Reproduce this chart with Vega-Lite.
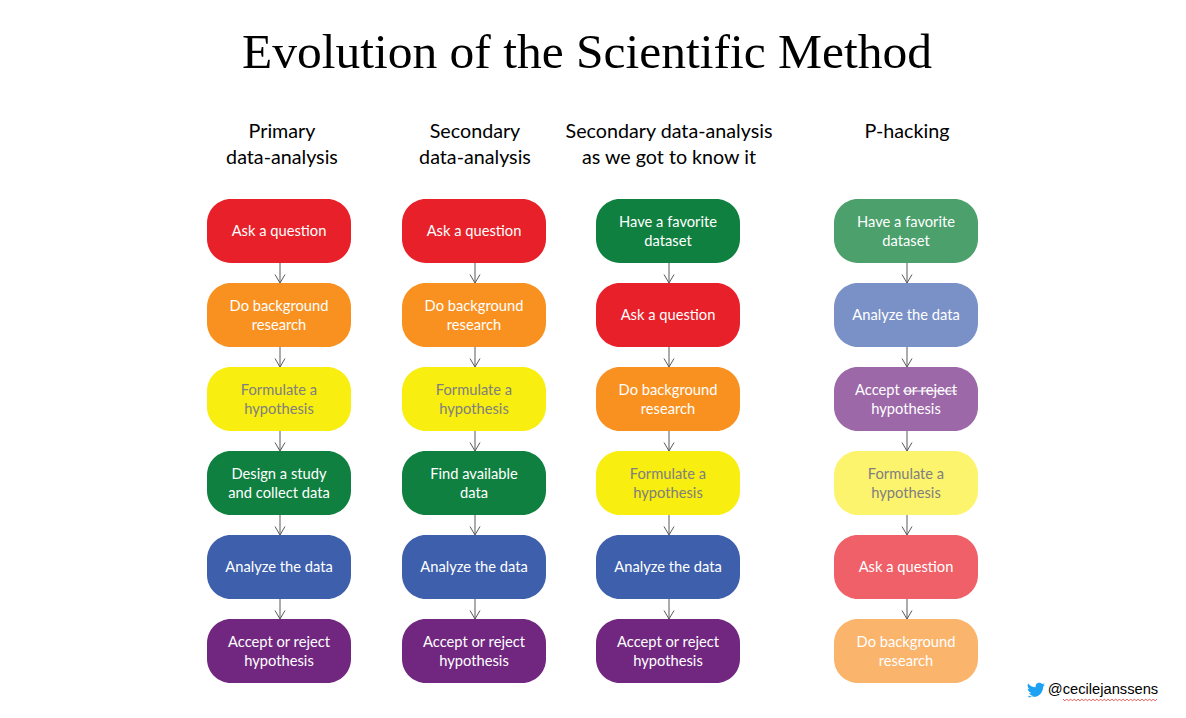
{
  "$schema": "https://vega.github.io/schema/vega-lite/v6.json",
  "width": 1186,
  "height": 718,
  "padding": 0,
  "autosize": "none",
  "background": "white",
  "title": {
    "text": "Evolution of the Scientific Method",
    "font": "Liberation Serif",
    "fontSize": 49.5,
    "fontWeight": "normal",
    "color": "black",
    "anchor": "middle",
    "frame": "group",
    "dx": -6,
    "offset": -78
  },
  "datasets": {
    "boxes": [
      {"panel": 1, "step": 1, "label": "Ask a question", "tone": "red", "ink": "white"},
      {"panel": 1, "step": 2, "label": "Do background\nresearch", "tone": "orange", "ink": "white"},
      {"panel": 1, "step": 3, "label": "Formulate a\nhypothesis", "tone": "yellow", "ink": "grey"},
      {"panel": 1, "step": 4, "label": "Design a study\nand collect data", "tone": "green", "ink": "white"},
      {"panel": 1, "step": 5, "label": "Analyze the data", "tone": "blue", "ink": "white"},
      {"panel": 1, "step": 6, "label": "Accept or reject\nhypothesis", "tone": "purple", "ink": "white"},
      {"panel": 2, "step": 1, "label": "Ask a question", "tone": "red", "ink": "white"},
      {"panel": 2, "step": 2, "label": "Do background\nresearch", "tone": "orange", "ink": "white"},
      {"panel": 2, "step": 3, "label": "Formulate a\nhypothesis", "tone": "yellow", "ink": "grey"},
      {"panel": 2, "step": 4, "label": "Find available\ndata", "tone": "green", "ink": "white"},
      {"panel": 2, "step": 5, "label": "Analyze the data", "tone": "blue", "ink": "white"},
      {"panel": 2, "step": 6, "label": "Accept or reject\nhypothesis", "tone": "purple", "ink": "white"},
      {"panel": 3, "step": 1, "label": "Have a favorite\ndataset", "tone": "green", "ink": "white"},
      {"panel": 3, "step": 2, "label": "Ask a question", "tone": "red", "ink": "white"},
      {"panel": 3, "step": 3, "label": "Do background\nresearch", "tone": "orange", "ink": "white"},
      {"panel": 3, "step": 4, "label": "Formulate a\nhypothesis", "tone": "yellow", "ink": "grey"},
      {"panel": 3, "step": 5, "label": "Analyze the data", "tone": "blue", "ink": "white"},
      {"panel": 3, "step": 6, "label": "Accept or reject\nhypothesis", "tone": "purple", "ink": "white"},
      {"panel": 4, "step": 1, "label": "Have a favorite\ndataset", "tone": "pale green", "ink": "white"},
      {"panel": 4, "step": 2, "label": "Analyze the data", "tone": "pale blue", "ink": "white"},
      {"panel": 4, "step": 3, "label": "Accept or reject\nhypothesis", "tone": "pale purple", "ink": "white"},
      {"panel": 4, "step": 4, "label": "Formulate a\nhypothesis", "tone": "pale yellow", "ink": "grey"},
      {"panel": 4, "step": 5, "label": "Ask a question", "tone": "pale red", "ink": "white"},
      {"panel": 4, "step": 6, "label": "Do background\nresearch", "tone": "pale orange", "ink": "white"}
    ],
    "arrows": [
      {"panel": 1, "from": 1, "to": 2}, {"panel": 1, "from": 2, "to": 3}, {"panel": 1, "from": 3, "to": 4}, {"panel": 1, "from": 4, "to": 5}, {"panel": 1, "from": 5, "to": 6},
      {"panel": 2, "from": 1, "to": 2}, {"panel": 2, "from": 2, "to": 3}, {"panel": 2, "from": 3, "to": 4}, {"panel": 2, "from": 4, "to": 5}, {"panel": 2, "from": 5, "to": 6},
      {"panel": 3, "from": 1, "to": 2}, {"panel": 3, "from": 2, "to": 3}, {"panel": 3, "from": 3, "to": 4}, {"panel": 3, "from": 4, "to": 5}, {"panel": 3, "from": 5, "to": 6},
      {"panel": 4, "from": 1, "to": 2}, {"panel": 4, "from": 2, "to": 3}, {"panel": 4, "from": 3, "to": 4}, {"panel": 4, "from": 4, "to": 5}, {"panel": 4, "from": 5, "to": 6}
    ],
    "heads": [
      {"panel": 1, "step": 0, "label": "Primary\ndata-analysis"},
      {"panel": 2, "step": 0, "label": "Secondary\ndata-analysis"},
      {"panel": 3, "step": 0, "label": "Secondary data-analysis\nas we got to know it"},
      {"panel": 4, "step": 0, "label": "P-hacking"}
    ],
    "credit": [{"panel": 5, "step": 6, "label": "@cecilejanssens"}],
    "struck": [{"panel": 4, "step": 3}]
  },
  "encoding": {
    "x": {
      "field": "panel",
      "type": "quantitative",
      "axis": null,
      "scale": {"domain": [1, 2, 3, 4, 5], "range": [279, 474, 668, 906, 1103]}
    },
    "y": {
      "field": "step",
      "type": "quantitative",
      "axis": null,
      "scale": {"domain": [0, 6], "range": [147, 651]}
    }
  },
  "layer": [
    {
      "data": {"name": "arrows"},
      "mark": {"type": "rule", "color": "#595959", "strokeWidth": 1, "xOffset": 1},
      "encoding": {
        "y": {"field": "from", "type": "quantitative"},
        "y2": {"field": "to"}
      }
    },
    {
      "data": {"name": "arrows"},
      "mark": {
        "type": "point",
        "shape": "M-1,-1.7L0,0L1,-1.7",
        "size": 100,
        "filled": false,
        "color": "#595959",
        "strokeWidth": 1,
        "opacity": 1,
        "xOffset": 1,
        "yOffset": -32
      },
      "encoding": {"y": {"field": "to", "type": "quantitative"}}
    },
    {
      "data": {"name": "boxes"},
      "mark": {"type": "rect", "width": 144, "height": 64, "cornerRadius": 24},
      "encoding": {
        "color": {
          "field": "tone",
          "type": "nominal",
          "legend": null,
          "scale": {
            "domain": ["red", "orange", "yellow", "green", "blue", "purple", "pale red", "pale orange", "pale yellow", "pale green", "pale blue", "pale purple"],
            "range": ["#E8202A", "#F99120", "#F8EE10", "#0F8040", "#3E5FAC", "#71277F", "#EF6068", "#FBB46C", "#FDF46E", "#4BA06C", "#7A91C8", "#9C68A8"]
          }
        }
      }
    },
    {
      "data": {"name": "boxes"},
      "transform": [{"filter": "indexof(datum.label, '\\n') < 0"}],
      "mark": {"type": "text", "font": "Lato", "fontSize": 14.7, "align": "center", "baseline": "middle", "yOffset": 1},
      "encoding": {
        "text": {"field": "label"},
        "color": {
          "field": "ink",
          "type": "nominal",
          "legend": null,
          "scale": {"domain": ["white", "grey"], "range": ["#FFFFFF", "#7F7F7F"]}
        }
      }
    },
    {
      "data": {"name": "boxes"},
      "transform": [{"filter": "indexof(datum.label, '\\n') >= 0"}],
      "mark": {"type": "text", "font": "Lato", "fontSize": 14.7, "lineHeight": 19, "lineBreak": "\n", "align": "center", "baseline": "middle", "yOffset": -8.5},
      "encoding": {
        "text": {"field": "label"},
        "color": {
          "field": "ink",
          "type": "nominal",
          "legend": null,
          "scale": {"domain": ["white", "grey"], "range": ["#FFFFFF", "#7F7F7F"]}
        }
      }
    },
    {
      "data": {"name": "struck"},
      "mark": {
        "type": "point",
        "shape": "M-1,0L1,0",
        "size": 2916,
        "filled": false,
        "color": "#FFFFFF",
        "strokeWidth": 1,
        "opacity": 1,
        "xOffset": 24,
        "yOffset": -8
      }
    },
    {
      "data": {"name": "heads"},
      "transform": [{"filter": "datum.panel == 1"}],
      "mark": {"type": "text", "font": "Lato", "fontSize": 19.7, "lineHeight": 26, "lineBreak": "\n", "align": "center", "baseline": "middle", "color": "#000000", "xOffset": 3, "yOffset": -15},
      "encoding": {"text": {"field": "label"}}
    },
    {
      "data": {"name": "heads"},
      "transform": [{"filter": "datum.panel != 1"}],
      "mark": {"type": "text", "font": "Lato", "fontSize": 19.7, "lineHeight": 26, "lineBreak": "\n", "align": "center", "baseline": "middle", "color": "#000000", "xOffset": 1, "yOffset": -15},
      "encoding": {"text": {"field": "label"}}
    },
    {
      "data": {"name": "credit"},
      "mark": {"type": "text", "font": "Liberation Sans", "fontSize": 14.7, "align": "center", "baseline": "middle", "color": "#000000", "yOffset": 38.5},
      "encoding": {"text": {"field": "label"}}
    },
    {
      "data": {"name": "credit"},
      "mark": {
        "type": "point",
        "shape": "M-1,0.75C-0.45,1.1 0.3,1 0.7,0.45C0.95,0.1 1,-0.25 1,-0.45C1.1,-0.55 1.2,-0.65 1.25,-0.75C1.15,-0.7 1.05,-0.67 0.95,-0.66C1.07,-0.73 1.15,-0.85 1.2,-0.97C1.08,-0.9 0.97,-0.85 0.85,-0.83C0.6,-1.1 0.15,-1.05 0,-0.75C-0.07,-0.6 -0.07,-0.47 -0.05,-0.37C-0.5,-0.4 -0.85,-0.6 -1.1,-0.92C-1.25,-0.65 -1.15,-0.3 -0.9,-0.12C-1,-0.12 -1.08,-0.15 -1.15,-0.2C-1.15,0.1 -0.95,0.35 -0.65,0.42C-0.75,0.45 -0.85,0.45 -0.95,0.43C-0.85,0.67 -0.62,0.83 -0.37,0.83C-0.57,0.97 -0.8,1.03 -1.1,1Z",
        "size": 207,
        "filled": true,
        "color": "#1DA1F2",
        "opacity": 1,
        "xOffset": -67,
        "yOffset": 39
      }
    },
    {
      "data": {"name": "credit"},
      "mark": {
        "type": "point",
        "shape": "M-1,0L-0.96,0.04L-0.92,0L-0.88,0.04L-0.84,0L-0.8,0.04L-0.76,0L-0.72,0.04L-0.68,0L-0.64,0.04L-0.6,0L-0.56,0.04L-0.52,0L-0.48,0.04L-0.44,0L-0.4,0.04L-0.36,0L-0.32,0.04L-0.28,0L-0.24,0.04L-0.2,0L-0.16,0.04L-0.12,0L-0.08,0.04L-0.04,0L0,0.04L0.04,0L0.08,0.04L0.12,0L0.16,0.04L0.2,0L0.24,0.04L0.28,0L0.32,0.04L0.36,0L0.4,0.04L0.44,0L0.48,0.04L0.52,0L0.56,0.04L0.6,0L0.64,0.04L0.68,0L0.72,0.04L0.76,0L0.8,0.04L0.84,0L0.88,0.04L0.92,0L0.96,0.04L1,0",
        "size": 8836,
        "filled": false,
        "color": "#E03030",
        "strokeWidth": 0.8,
        "opacity": 1,
        "xOffset": 7,
        "yOffset": 48
      }
    }
  ],
  "resolve": {"scale": {"color": "independent"}},
  "config": {"view": {"stroke": null}}
}
